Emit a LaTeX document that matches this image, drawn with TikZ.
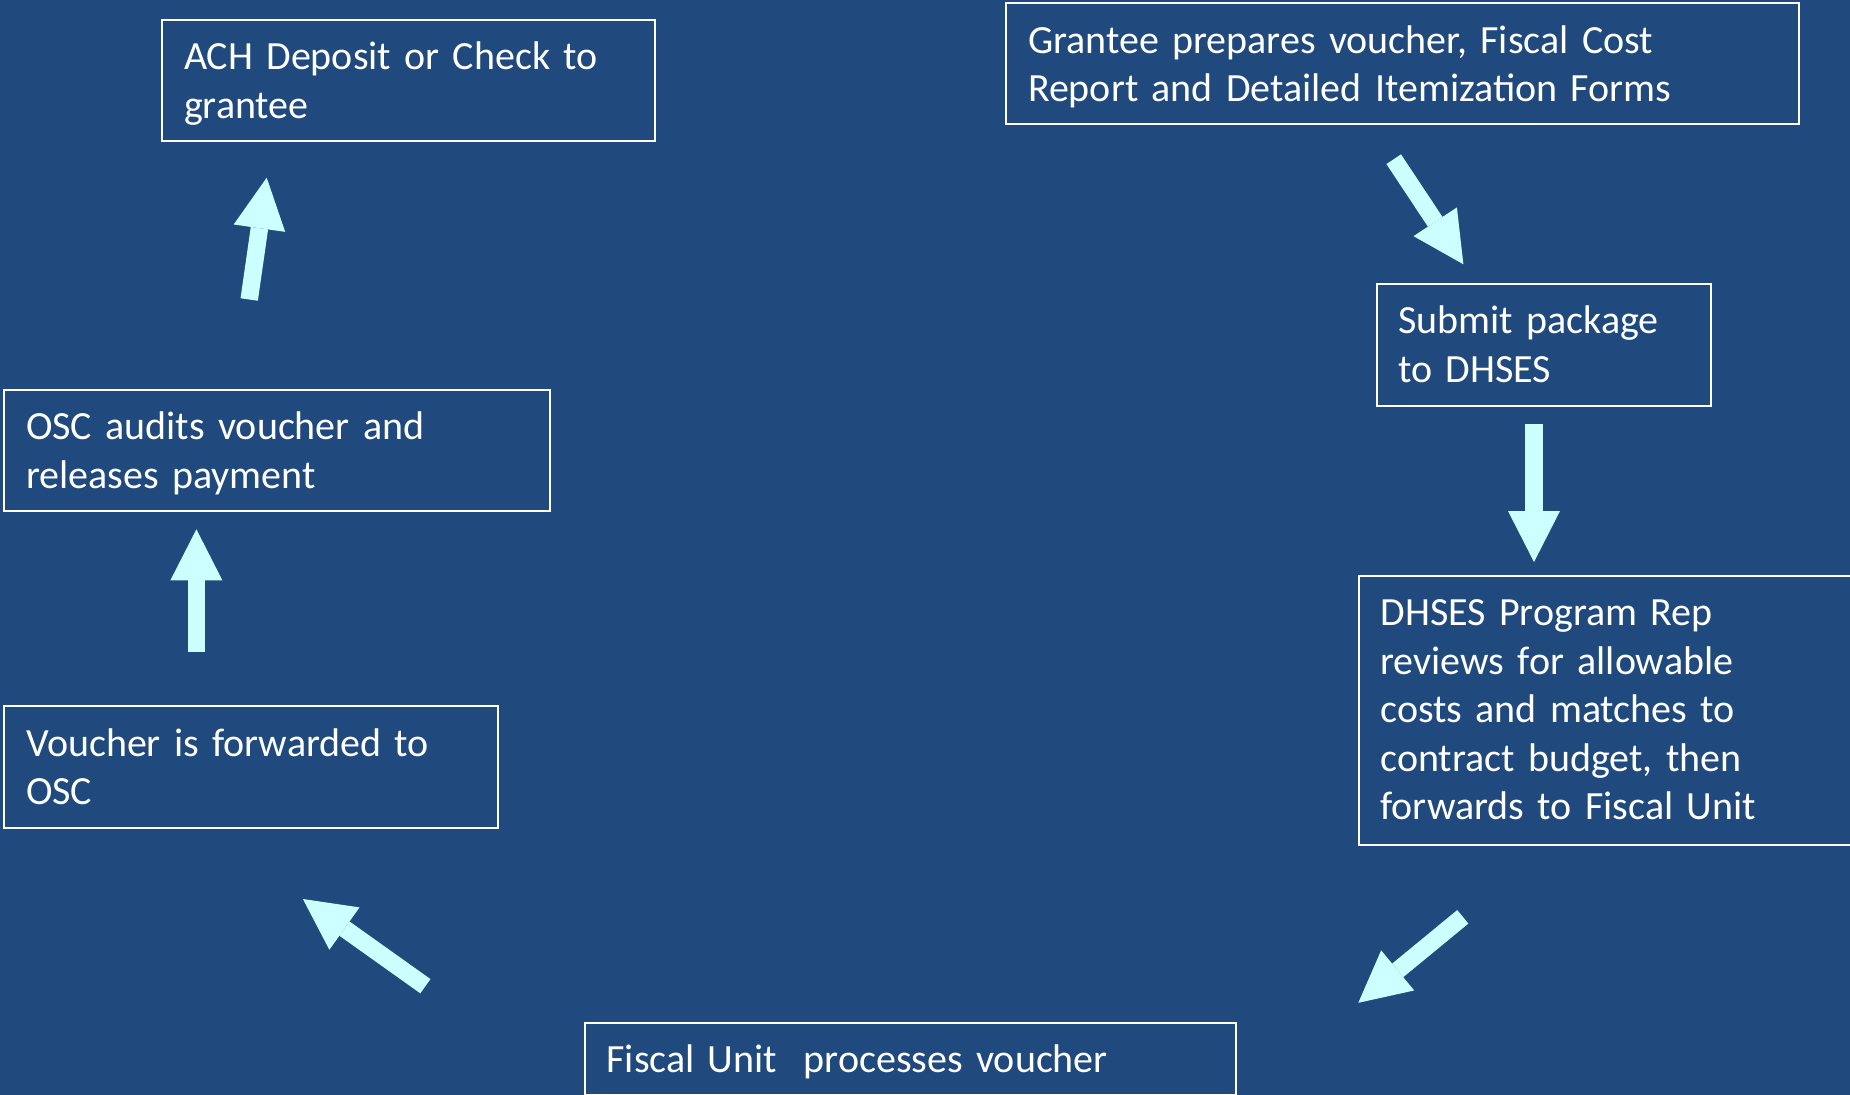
\documentclass[tikz,border=0pt]{standalone}
\usepackage{fontspec}
\setmainfont{Carlito}
\usetikzlibrary{arrows.meta}
\definecolor{bgblue}{RGB}{32,73,125}
\definecolor{arrowc}{RGB}{204,255,255}
\tikzset{
  stepbox/.style={draw=white, line width=2pt, anchor=north west, inner xsep=22pt, inner ysep=0pt,
    align=left, text=white, font=\fontsize{40}{48.5}\selectfont, text height=50pt},
  blockarrow/.style={draw=arrowc, line width=17.5pt,
    -{Triangle[width=52pt,length=51pt,line width=0pt]}}
}
\begin{document}
\begin{tikzpicture}[x=1pt,y=-1pt]
\useasboundingbox (0,0) rectangle (1850,1095);
\fill[bgblue] (0,0) rectangle (1850,1095);

% boxes: (left, top), width W, height H
\node[stepbox, minimum width=493pt, minimum height=121.5pt, text width=449pt, text depth=71.5pt] (ach) at (161,18.5)
  {ACH Deposit or Check to\\grantee};
\node[stepbox, minimum width=793pt, minimum height=120.5pt, text width=749pt, text depth=70.5pt] (grantee) at (1005,2)
  {Grantee prepares voucher, Fiscal Cost\\Report and Detailed Itemization Forms};
\node[stepbox, minimum width=334.5pt, minimum height=122pt, text width=290.5pt, text depth=72pt] (submit) at (1375.5,282.5)
  {Submit package\\to DHSES};
\node[stepbox, minimum width=492pt, minimum height=269pt, text width=448pt, text depth=219pt] (dhses) at (1357.5,574.5)
  {DHSES Program Rep\\reviews for allowable\\costs and matches to\\contract budget, then\\forwards to Fiscal Unit};
\node[stepbox, minimum width=651.5pt, minimum height=72pt, text width=607.5pt, text depth=22pt] (fiscal) at (583.5,1021.5)
  {Fiscal Unit~ processes voucher};
\node[stepbox, minimum width=493.5pt, minimum height=121.5pt, text width=449.5pt, text depth=71.5pt] (voucher) at (3,705)
  {Voucher is forwarded to\\OSC};
\node[stepbox, minimum width=546pt, minimum height=121.5pt, text width=502pt, text depth=71.5pt] (osc) at (3,388.5)
  {OSC audits voucher and\\releases payment};

% arrow ends
\coordinate (a1s) at (1393.7,159.2);  \coordinate (a1e) at (1463.4,264.3);
\coordinate (a2s) at (1534,423.7);    \coordinate (a2e) at (1534,562);
\coordinate (a3s) at (1462.8,916.8);  \coordinate (a3e) at (1358.3,1002.8);
\coordinate (a4s) at (425.4,986.2);   \coordinate (a4e) at (302.9,899);
\coordinate (a5s) at (196.4,651.7);   \coordinate (a5e) at (196.4,529.3);
\coordinate (a6s) at (249.2,299.5);   \coordinate (a6e) at (266.7,177.7);

\draw[blockarrow] (a1s) -- (a1e);
\draw[blockarrow] (a2s) -- (a2e);
\draw[blockarrow] (a3s) -- (a3e);
\draw[blockarrow] (a4s) -- (a4e);
\draw[blockarrow] (a5s) -- (a5e);
\draw[blockarrow] (a6s) -- (a6e);
\end{tikzpicture}
\end{document}
